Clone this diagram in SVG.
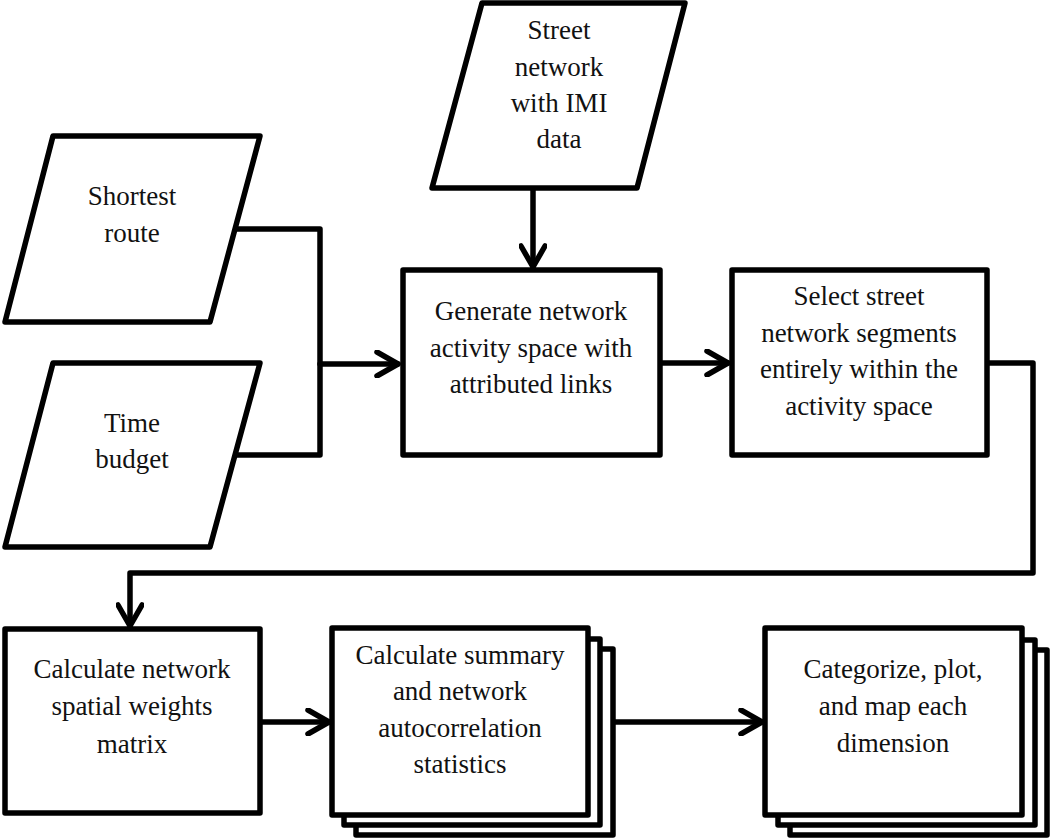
<svg xmlns="http://www.w3.org/2000/svg" width="1050" height="838" viewBox="0 0 1050 838">
<style>
.shape{fill:#fff;stroke:#000;stroke-width:5.5;stroke-linejoin:round}
.line{fill:none;stroke:#000;stroke-width:5.5;stroke-linejoin:round;stroke-linecap:round}
text{font-family:'Liberation Serif','DejaVu Serif',serif;font-size:27px;fill:#111;text-anchor:middle}
</style>
<defs>
<marker id="arr" viewBox="-24 -14 28 28" markerWidth="28" markerHeight="28" refX="0" refY="0" orient="auto" markerUnits="userSpaceOnUse">
<path d="M-21,-12 L0,0 L-21,12" fill="none" stroke="#000" stroke-width="5.5" stroke-linecap="round" stroke-linejoin="round"/>
</marker>
</defs>
<rect width="1050" height="838" fill="#fff"/>
<g id="connectors">
<path class="line" d="M235,229 H320 V455 H235"/>
<path class="line" d="M320,364 H398" marker-end="url(#arr)"/>
<path class="line" d="M533,188 V267" marker-end="url(#arr)"/>
<path class="line" d="M660,363 H728" marker-end="url(#arr)"/>
<path class="line" d="M987,363 H1033 V573 H130 V626" marker-end="url(#arr)"/>
<path class="line" d="M260,722 H329" marker-end="url(#arr)"/>
<path class="line" d="M613,722 H762" marker-end="url(#arr)"/>
</g>
<g id="shortest-route">
<polygon class="shape" points="53,136 260,136 210,322 5,322"/>
<text x="132" y="205">Shortest</text>
<text x="132" y="242">route</text>
</g>
<g id="time-budget">
<polygon class="shape" points="53,363 260,363 210,547 5,547"/>
<text x="132" y="432">Time</text>
<text x="132" y="468">budget</text>
</g>
<g id="street-network">
<polygon class="shape" points="482,3 685,3 637,188 432,188"/>
<text x="559" y="39">Street</text>
<text x="559" y="76">network</text>
<text x="559" y="112">with IMI</text>
<text x="559" y="148">data</text>
</g>
<g id="generate">
<rect class="shape" x="403" y="270" width="257" height="185"/>
<text x="531" y="320">Generate network</text>
<text x="531" y="357">activity space with</text>
<text x="531" y="393">attributed links</text>
</g>
<g id="select">
<rect class="shape" x="732" y="270" width="255" height="185"/>
<text x="859" y="305">Select street</text>
<text x="859" y="342">network segments</text>
<text x="859" y="378">entirely within the</text>
<text x="859" y="415">activity space</text>
</g>
<g id="weights">
<rect class="shape" x="5" y="629" width="255" height="184"/>
<text x="132" y="678">Calculate network</text>
<text x="132" y="715">spatial weights</text>
<text x="132" y="753">matrix</text>
</g>
<g id="summary">
<rect class="shape" x="356" y="649" width="257" height="186"/>
<rect class="shape" x="344" y="639" width="256" height="186"/>
<rect class="shape" x="332" y="628" width="256" height="187"/>
<text x="460" y="664">Calculate summary</text>
<text x="460" y="700">and network</text>
<text x="460" y="737">autocorrelation</text>
<text x="460" y="773">statistics</text>
</g>
<g id="categorize">
<rect class="shape" x="790" y="650" width="257" height="185"/>
<rect class="shape" x="778" y="640" width="257" height="185"/>
<rect class="shape" x="765" y="628" width="257" height="187"/>
<text x="893" y="678">Categorize, plot,</text>
<text x="893" y="715">and map each</text>
<text x="893" y="752">dimension</text>
</g>
</svg>
